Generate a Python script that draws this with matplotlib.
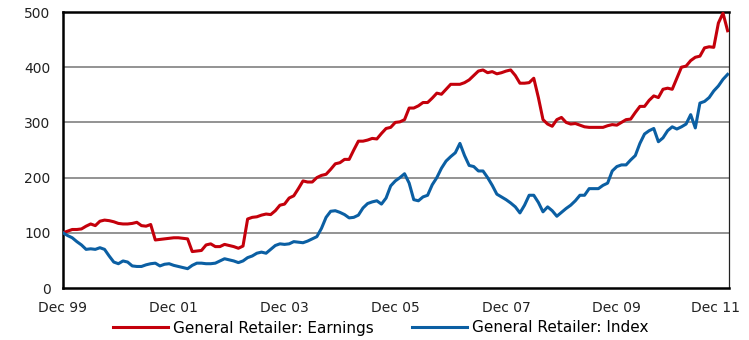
import matplotlib
matplotlib.use("Agg")
import matplotlib.pyplot as plt
import matplotlib.transforms as mtransforms
import numpy as np

# Monthly series, Dec 1999 .. Dec 2011 (145 months), base 100
earnings = [
    100, 103, 106, 106, 107, 112, 116, 113, 121, 123, 122, 120,
    117, 116, 116, 117, 119, 113, 112, 115, 87, 88, 89, 90,
    91, 91, 90, 89, 66, 67, 68, 78, 80, 75, 75, 79,
    77, 75, 72, 76, 125, 128, 129, 132, 134, 133, 140, 150,
    152, 163, 167, 180, 194, 192, 192, 200, 204, 206, 215, 225,
    227, 233, 233, 250, 266, 266, 268, 271, 270, 280, 289, 291,
    300, 301, 305, 326, 326, 330, 336, 336, 344, 353, 351, 360,
    369, 369, 369, 372, 377, 385, 393, 395, 390, 392, 388, 390,
    393, 395, 385, 371, 371, 372, 380, 345, 305, 297, 293, 305,
    309, 300, 297, 298, 295, 292, 291, 291, 291, 291, 294, 296,
    295, 300, 305, 306, 318, 329, 329, 340, 348, 345, 360, 362,
    360, 380, 400, 402, 412, 418, 420, 435, 437, 436, 480, 498,
    466,
]
index = [
    100, 95, 91, 84, 78, 70, 71, 70, 73, 70, 58, 47,
    44, 49, 47, 40, 39, 39, 42, 44, 45, 40, 43, 44,
    41, 39, 37, 35, 41, 45, 45, 44, 44, 45, 49, 53,
    51, 49, 46, 49, 55, 58, 63, 65, 63, 70, 77, 80,
    79, 80, 84, 83, 82, 85, 89, 93, 108, 128, 139, 140,
    137, 133, 127, 128, 132, 145, 153, 156, 158, 152, 163, 185,
    194, 200, 207, 190, 160, 158, 165, 168, 187, 200, 217, 230,
    238, 245, 262, 240, 222, 220, 212, 212, 200, 186, 170, 165,
    160, 154, 147, 136, 150, 168, 168, 155, 138, 147, 140, 130,
    137, 144, 150, 158, 168, 168, 180, 180, 180, 186, 190, 212,
    220, 223, 223, 232, 240, 262, 279, 285, 289, 265, 272, 285,
    292, 288, 292, 297, 314, 290, 335, 338, 345, 357, 366, 378,
    387,
]
tick_labels = ["Dec 99", "Dec 01", "Dec 03", "Dec 05", "Dec 07", "Dec 09", "Dec 11"]
y_ticks = [0, 100, 200, 300, 400, 500]
series_names = ["General Retailer: Earnings", "General Retailer: Index"]

months = np.arange(len(earnings))

plt.rcParams['font.family'] = ['DejaVu Sans']
fig = plt.figure(figsize=(7.49, 3.40), dpi=100)
ax = fig.add_axes([63/749, 52/340, (729-63)/749, (288-12)/340])

red = '#C4000B'
blue = '#0B5FA3'
ax.plot(months, earnings, color=red, lw=2.2, solid_joinstyle='round', zorder=3, label=series_names[0])
ax.plot(months, index, color=blue, lw=2.2, solid_joinstyle='round', zorder=3, label=series_names[1])

ax.set_xlim(0, 144.3)
ax.set_ylim(0, 500)
ax.set_yticks(y_ticks)
ax.set_yticklabels([str(v) for v in y_ticks])
ax.set_xticks(np.arange(0, 145, 24))
ax.set_xticklabels(tick_labels)
ax.tick_params(axis='both', length=0, labelsize=10, colors='#222222')
ax.tick_params(axis='y', pad=9)
ax.tick_params(axis='x', pad=9)

# nudge last x label left so it stays inside the figure
last = ax.get_xticklabels()[-1]
last.set_transform(last.get_transform() + mtransforms.ScaledTranslation(-12/100, 0, fig.dpi_scale_trans))

for v in y_ticks[1:-1]:
    ax.axhline(v, color='#8a8a8a', lw=1.3, zorder=1)

for s in ['left', 'top', 'bottom']:
    ax.spines[s].set_linewidth(1.8)
    ax.spines[s].set_color('black')
ax.spines['right'].set_linewidth(0.9)
ax.spines['right'].set_color('#222222')

fig.legend(loc='center', bbox_to_anchor=(381/749, 12/340), ncol=2, frameon=False,
           fontsize=11, handlelength=3.6, handletextpad=0.33, columnspacing=2.5,
           borderaxespad=0, borderpad=0)

fig.savefig('out.png', dpi=100)
